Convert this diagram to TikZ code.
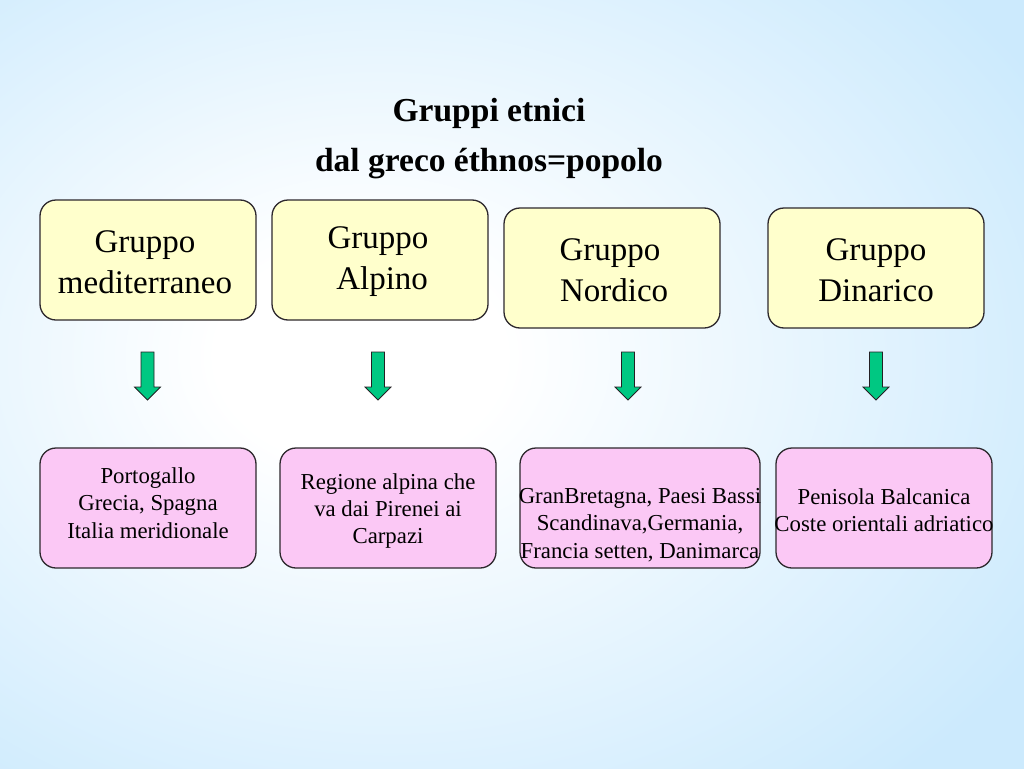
\documentclass[tikz,border=0pt]{standalone}
\usepackage{fontspec}
\setmainfont{Liberation Serif}
\definecolor{bgblue}{RGB}{204,234,253}
\definecolor{topfill}{RGB}{255,255,204}
\definecolor{botfill}{RGB}{251,200,245}
\definecolor{edge}{RGB}{45,40,45}
\definecolor{arrfill}{RGB}{0,200,130}
\pgfdeclareradialshading{bgshade}{\pgfpoint{-8bp}{2bp}}{color(0bp)=(white); color(7bp)=(white); color(36bp)=(bgblue); color(100bp)=(bgblue)}
\begin{document}
\begin{tikzpicture}[x=1pt,y=-1pt,
  topbox/.style={draw=edge, line width=1.3pt, fill=topfill, rounded corners=16pt, minimum width=216pt, minimum height=120pt, inner sep=0pt},
  botbox/.style={draw=edge, line width=1.3pt, fill=botfill, rounded corners=16pt, minimum height=120pt, inner sep=0pt},
  toptxt/.style={align=center, font=\fontsize{33}{41}\selectfont, inner sep=0pt},
  bottxt/.style={align=center, font=\fontsize{22.8}{27.3}\selectfont, inner sep=0pt},
  titletxt/.style={align=center, font=\fontsize{33.5}{50}\selectfont\bfseries, inner sep=0pt},
  blockarrow/.style={draw=edge!80!black, line width=0.8pt, fill=arrfill}
]
\useasboundingbox (0,0) rectangle (1024,768);
\shade[shading=bgshade] (0,0) rectangle (1024,768);

% title
\node[titletxt] (title) at (489,139) {Gruppi etnici\\dal greco éthnos=popolo};

% top boxes
\node[topbox] (b1) at (148,260) {};
\node[topbox] (b2) at (380,260) {};
\node[topbox] (b3) at (612,268) {};
\node[topbox] (b4) at (876,268) {};
\node[toptxt] (t1) at (145,262) {Gruppo\\mediterraneo};
\node[toptxt] (t2) at (378,262) {Gruppo\\\ Alpino};
\node[toptxt] (t3) at (610,270) {Gruppo\\\ Nordico};
\node[toptxt] (t4) at (876,270) {Gruppo\\Dinarico};

% block arrows
\foreach \c/\n in {147.5/a1, 378/a2, 628/a3, 876/a4}{
  \draw[blockarrow] (\c-6.5,352) -- (\c+6.5,352) -- (\c+6.5,387) -- (\c+13,387)
     -- (\c,400) -- (\c-13,387) -- (\c-6.5,387) -- cycle;
}

% bottom boxes
\node[botbox, minimum width=216pt] (c1) at (148,508) {};
\node[botbox, minimum width=216pt] (c2) at (388,508) {};
\node[botbox, minimum width=240pt] (c3) at (640,508) {};
\node[botbox, minimum width=216pt] (c4) at (884,508) {};
\node[bottxt] (u1) at (148,503) {Portogallo\\Grecia, Spagna\\Italia meridionale};
\node[bottxt] (u2) at (388,511) {Regione alpina che\\va dai Pirenei ai\\Carpazi};
\node[bottxt] (u3) at (640,525) {GranBretagna, Paesi Bassi\\Scandinava,Germania,\\Francia setten, Danimarca};
\node[bottxt] (u4) at (884,510) {Penisola Balcanica\\Coste orientali adriatico};
\end{tikzpicture}
\end{document}
